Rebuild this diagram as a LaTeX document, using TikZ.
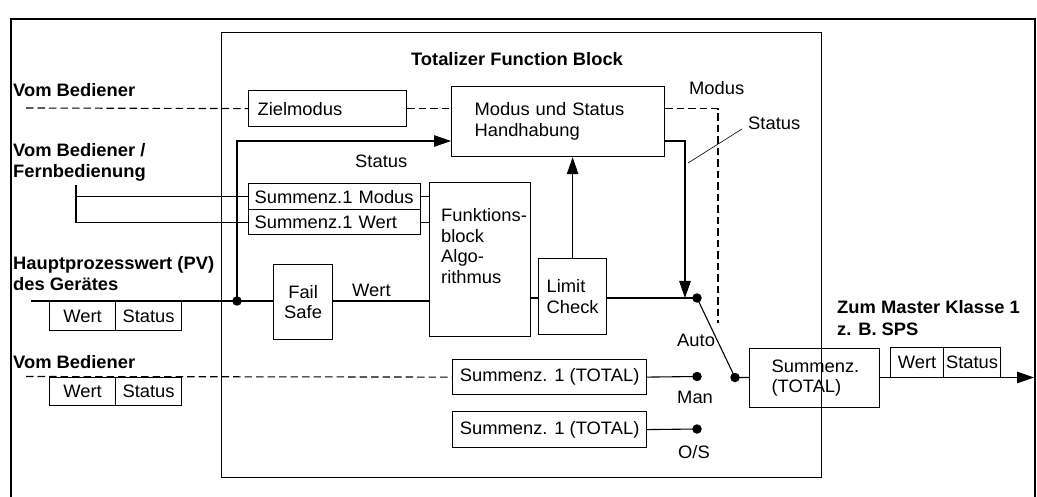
\documentclass[tikz,border=0pt]{standalone}
\usepackage{fontspec}
\setmainfont{Liberation Sans}[FakeStretch=1.02]
\usetikzlibrary{arrows.meta}
\begin{document}
\begin{tikzpicture}[x=1pt,y=-1pt,
  font=\fontsize{18}{20.8}\selectfont,
  box/.style={draw, line width=1.2pt, inner sep=0pt, anchor=north west},
  tbox/.style={box, align=left},
  lbl/.style={inner sep=0pt, anchor=base west, font=\fontsize{18}{20.8}\selectfont\bfseries},
  txt/.style={inner sep=0pt, anchor=base west},
  ln/.style={line width=1.1pt},
  dsh/.style={line width=1.1pt, dash pattern=on 7.5pt off 4pt},
  arr/.style={-{Triangle[length=17pt,width=11.5pt]}},
  dot/.style={circle, fill, inner sep=0pt, minimum size=9.5pt},
]
\useasboundingbox (0,0) rectangle (1037,497);
% outer frame (continues below the picture)
\draw[line width=2.2pt] (11,500) -- (11,19) -- (1035,19) -- (1035,500);

% function block frame
\node[box, line width=1.4pt, minimum width=600pt, minimum height=445pt] (tfb) at (221,32) {};
\node[lbl, anchor=base] (title) at (517,66) {Totalizer Function Block};

% boxes
\node[tbox, minimum width=158pt, minimum height=36pt, inner xsep=9pt, text width=140pt] (zm) at (248,90) {Zielmodus};
\node[tbox, minimum width=213pt, minimum height=70pt, inner xsep=23pt, text width=167pt] (mh) at (451,86) {Modus und Status\\Handhabung};
\node[tbox, minimum width=172pt, minimum height=26pt, inner xsep=6pt, text width=160pt] (sm) at (248,183) {\mbox{Summenz.1 Modus}};
\node[tbox, minimum width=172pt, minimum height=25pt, inner xsep=6pt, text width=160pt] (sw) at (248,209) {\mbox{Summenz.1 Wert}};
\node[box, minimum width=101pt, minimum height=154pt] (fb) at (429,182) {};
\node[inner sep=0pt, anchor=north west, align=left] (fbt) at (441,208) {Funktions-\\block\\Algo-\\rithmus};
\node[tbox, minimum width=68pt, minimum height=76pt, inner xsep=8pt, text width=52pt] (lc) at (538,258) {Limit\\Check};
\node[box, align=center, minimum width=59pt, minimum height=75pt] (fs) at (273,264) {Fail\\Safe};
\node[box, minimum width=194pt, minimum height=35pt] (t1) at (452,359) {Summenz. 1 (TOTAL)};
\node[box, minimum width=194pt, minimum height=36pt] (t2) at (452,411) {Summenz. 1 (TOTAL)};
\node[tbox, minimum width=130pt, minimum height=59pt, inner xsep=22pt, text width=86pt] (st) at (749,348) {Summenz.\\(TOTAL)};

% Wert / Status tags
\node[box, minimum width=66pt, minimum height=29pt] (w1) at (49,301) {Wert};
\node[box, minimum width=66pt, minimum height=29pt] (s1) at (115,301) {Status};
\node[box, minimum width=66pt, minimum height=28pt] (w2) at (49,377) {Wert};
\node[box, minimum width=66pt, minimum height=28pt] (s2) at (115,377) {Status};
\node[box, minimum width=53pt, minimum height=30pt] (w3) at (890,347) {Wert};
\node[box, minimum width=57pt, minimum height=30pt] (s3) at (943,347) {Status};

% outside labels
\node[lbl] (vb1) at (13,97) {Vom Bediener};
\node[lbl] (vb2a) at (13,157) {Vom Bediener /};
\node[lbl] (vb2b) at (13,177.5) {Fernbedienung};
\node[lbl] (pva) at (13,270) {Hauptprozesswert (PV)};
\node[lbl] (pvb) at (13,290.5) {des Gerätes};
\node[lbl] (vb3) at (13,368) {Vom Bediener};
\node[lbl] (zma) at (837,314) {Zum Master Klasse 1};
\node[lbl] (zmb) at (837,335) {z. B. SPS};

% inner labels
\node[txt] (lstat) at (355,168) {Status};
\node[txt] (lwert) at (352,297) {Wert};
\node[txt] (lmod) at (689,95) {Modus};
\node[txt] (lst2) at (748,130) {Status};
\node[txt] (lauto) at (677,347) {Auto};
\node[txt] (lman) at (677,403) {Man};
\node[txt] (los) at (678,458) {O/S};

% dots and free ends
\node[dot] (jn) at (237,301) {};
\node[dot] (da) at (697,298) {};
\node[dot] (dm) at (697,376.5) {};
\node[dot] (dos) at (697,429) {};
\node[dot] (dsw) at (735,377.5) {};
\coordinate (c1) at (26,108);
\coordinate (c2) at (26,376.5);
\coordinate (pv) at (31,301);
\coordinate (fbn) at (76,185);
\coordinate (dend) at (718,323);
\coordinate (atip) at (685,298);
\coordinate (out) at (1034,377.5);
\coordinate (pa) at (742,129);
\coordinate (pb) at (688,163);

% connectors
\draw[dsh] (c1) -- (zm.west);
\draw[dsh] (zm.east) -- (zm.east -| mh.west);
\draw[dsh] (zm.east -| mh.east) -| (dend);
\draw[ln,arr] (jn.center) |- ([yshift=-55pt]mh.north west);
\draw[ln] (fbn) |- (sw.west);
\draw[ln] (fbn |- sm.west) -- (sm.west);
\draw[ln] (sm.east) -- (sm.east -| fb.west);
\draw[ln] (sw.east) -- (sw.east -| fb.west);
\draw[ln] (pv) -- (jn.center) -- (fs.west |- jn);
\draw[ln] (fs.east |- jn) -- (fb.west |- jn);
\draw[ln] (fb.east |- da) -- (lc.west |- da);
\draw[ln] (lc.east |- da) -- (da.center);
\draw[ln,arr] (lc.north) -- (lc.north |- mh.south);
\draw[ln,arr] ([yshift=-55pt]mh.north east) -| (atip);
\draw[line width=0.6pt] (pa) -- (pb);
\draw[ln] (da.center) -- (dsw.center) -- (st.west |- dsw);
\draw[ln] (t1.east) -- (dm.center);
\draw[ln] (t2.east) -- (dos.center);
\draw[dsh] (c2) -- (t1.west);
\draw[ln,arr] (st.east |- out) -- (out);
\end{tikzpicture}
\end{document}
